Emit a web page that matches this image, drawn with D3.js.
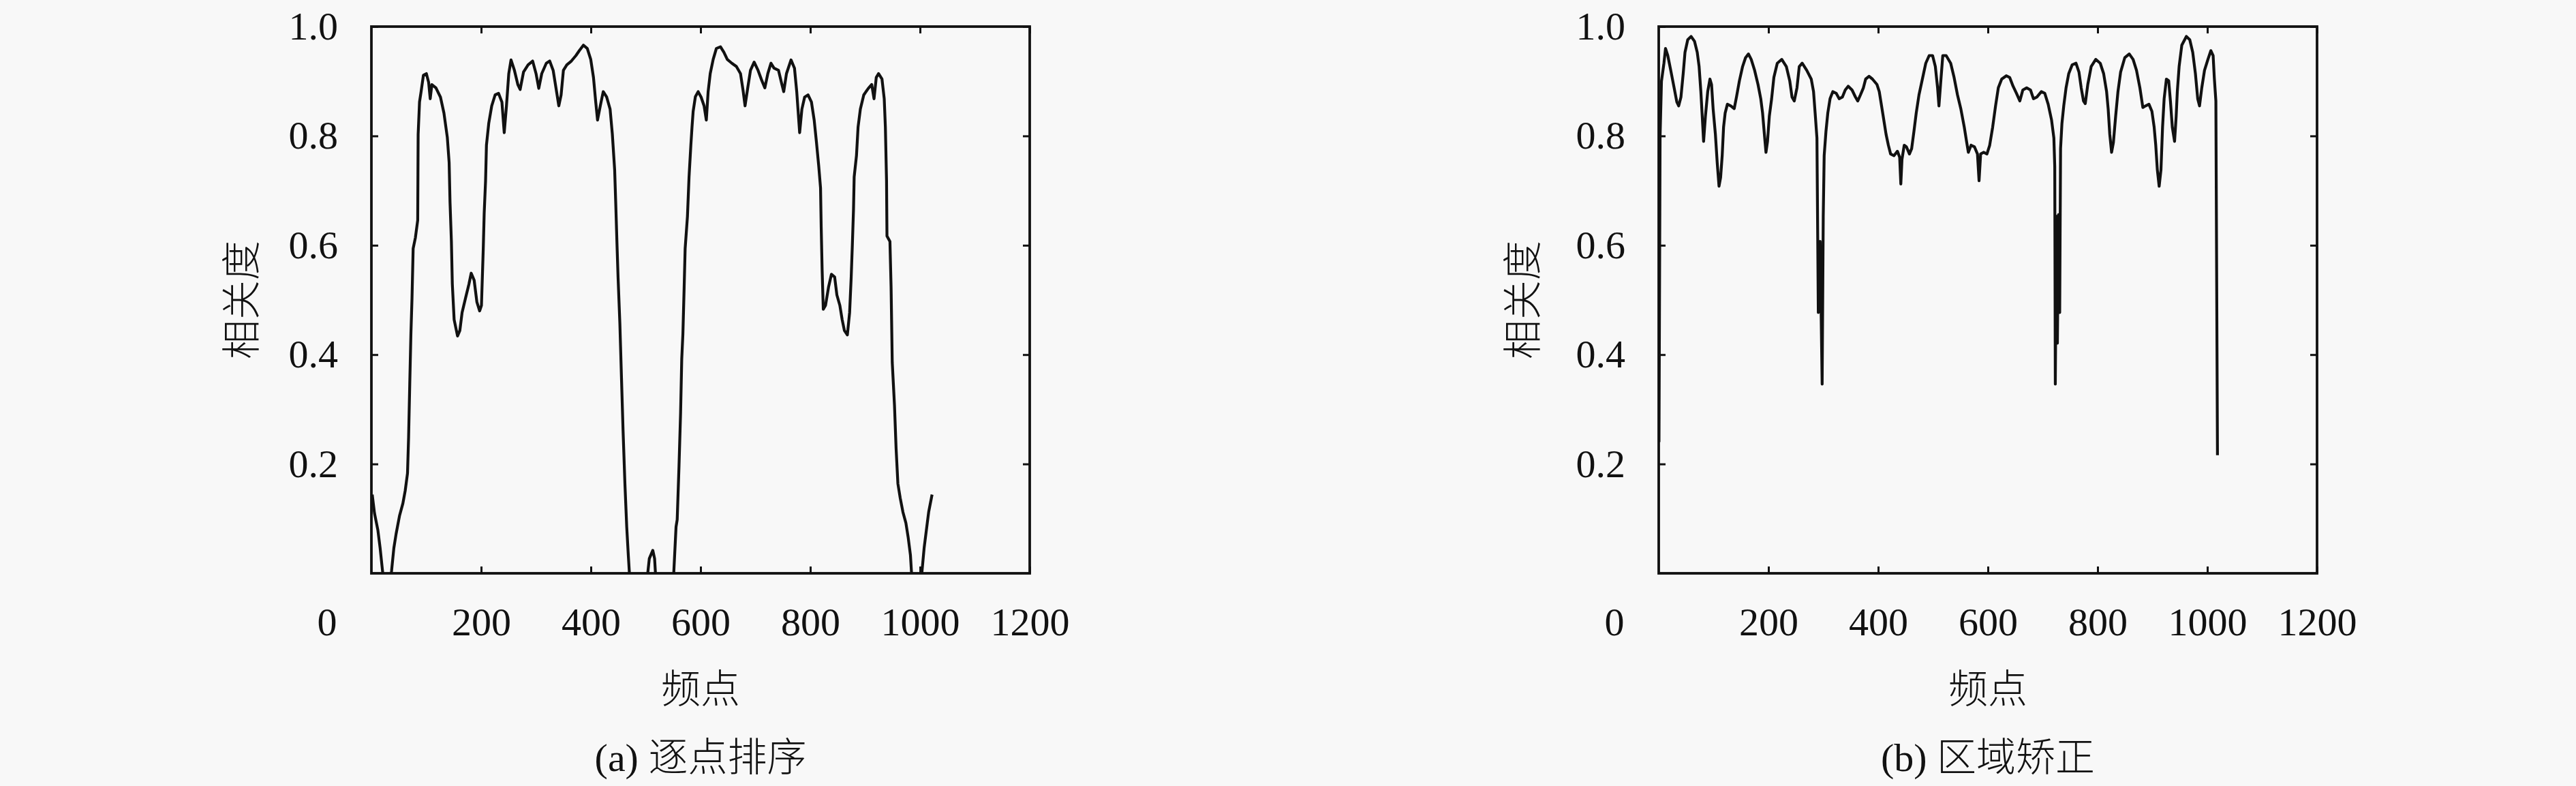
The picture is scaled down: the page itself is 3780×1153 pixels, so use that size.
<!DOCTYPE html>
<html><head><meta charset="utf-8">
<script src="https://cdn.jsdelivr.net/npm/d3@7"></script>
<style>
html,body{margin:0;padding:0;background:#f8f8f8;}
svg{display:block;}
</style></head>
<body>
<svg id="chart" width="3780" height="1153"></svg>
<script>
// ---------- data ----------
const xTicks = [200, 400, 600, 800, 1000, 1200];
const yTicks = [0.2, 0.4, 0.6, 0.8, 1.0];
const xTickLabels = ["200", "400", "600", "800", "1000", "1200"];
const yTickLabels = ["0.2", "0.4", "0.6", "0.8", "1.0"];
const originLabel = "0";
const xLabel = "频点";
const yLabel = "相关度";
const captions = ["(a) 逐点排序", "(b) 区域矫正"];

// (a) 逐点排序
const seriesA_x = [1.5,5.6,11.8,15.9,20,24,32,36.7,40.9,45,51.2,57.4,61.6,65.8,67.8,69.9,72,74,76.1,80.2,84.4,85.2,87.7,90.6,94.8,100.2,104.3,107.2,110.2,117.6,125.9,132.2,138.4,141.7,143.3,145.8,147.5,150.8,157,161.2,165.3,171.5,177.8,181.9,187.3,192.3,197.3,200.6,203.9,205.6,208.1,209.7,213.9,219.3,225.5,231.7,237.9,242.1,246.2,250.4,254.5,260.7,266.9,271.1,277.3,285.6,293.9,300.1,305.1,310.5,318.8,325,331.3,337.5,341.6,345.8,350,356.2,364.5,372.8,379,386.5,393.5,399.8,404.8,408.9,412.2,417.2,422.6,428.9,435.1,439.2,443.4,445.5,447.5,449.6,452.9,455.8,458.7,462.1,465.4,468.3,470.3,474,500,503.7,506.6,512.9,516.2,517.8,521,548,551.1,555.3,557.4,560.7,563.6,565.7,567.8,569.9,571.9,576.1,579,582.3,584.4,586.5,590.6,595.6,601,606.4,610.5,613.8,617.6,623,628.8,636.3,642.5,648.7,657,665.3,672.8,677.8,681.1,686,691,697.7,704.8,711.8,717.2,722.6,728.4,733.8,742.1,748.3,751.6,756.6,764.9,771.2,775.3,780.6,784.7,789.7,795.9,802.1,807.1,811.2,815.4,818.7,819.9,821.6,823.7,827.8,833.2,838.6,844.4,848.5,853.9,858.1,862.2,867.6,871.7,874.6,876.7,878.8,880,884.2,887.1,891.3,897.5,905.8,912,916.2,920.3,924.4,930.7,934.8,936.9,939,939.8,945.2,947.3,949.4,953.5,956.4,959.7,963.9,968.9,974.3,978.4,982.6,984.6,988,1000,1003.3,1007.5,1011.6,1015.8,1022];
const seriesA_y = [0.144,0.11,0.079,0.046,0.007,-0.03,-0.03,0.004,0.046,0.072,0.105,0.128,0.151,0.183,0.249,0.346,0.438,0.503,0.594,0.614,0.646,0.803,0.862,0.881,0.911,0.914,0.898,0.868,0.894,0.888,0.871,0.842,0.797,0.751,0.679,0.607,0.529,0.464,0.434,0.444,0.477,0.503,0.529,0.549,0.536,0.496,0.48,0.49,0.594,0.659,0.718,0.783,0.823,0.855,0.875,0.878,0.862,0.806,0.855,0.914,0.939,0.92,0.894,0.885,0.917,0.93,0.937,0.914,0.887,0.914,0.933,0.937,0.92,0.881,0.855,0.875,0.92,0.93,0.937,0.947,0.956,0.966,0.96,0.94,0.907,0.862,0.829,0.855,0.881,0.871,0.849,0.803,0.738,0.673,0.607,0.542,0.457,0.359,0.262,0.164,0.085,0.033,0,-0.04,-0.04,0,0.027,0.042,0.027,0,-0.04,-0.04,0,0.085,0.098,0.196,0.294,0.392,0.438,0.516,0.594,0.653,0.725,0.783,0.816,0.845,0.872,0.881,0.871,0.855,0.829,0.881,0.914,0.94,0.96,0.963,0.953,0.94,0.933,0.927,0.914,0.881,0.855,0.888,0.92,0.935,0.92,0.901,0.888,0.914,0.933,0.924,0.92,0.894,0.881,0.914,0.939,0.924,0.881,0.806,0.849,0.871,0.875,0.862,0.829,0.789,0.745,0.705,0.633,0.555,0.483,0.49,0.523,0.547,0.542,0.509,0.49,0.464,0.444,0.436,0.477,0.542,0.601,0.666,0.725,0.764,0.816,0.849,0.875,0.887,0.894,0.868,0.907,0.914,0.904,0.868,0.816,0.718,0.617,0.607,0.523,0.386,0.307,0.229,0.164,0.138,0.112,0.092,0.066,0.033,0,-0.04,-0.04,0,0.046,0.079,0.112,0.144];

// (b) 区域矫正
const seriesB_x = [0.5,2.5,5,9.5,12.4,16.5,21.9,28.1,33,36.4,40.5,44.6,47.9,52.9,59,65.3,70.2,73.6,76.8,79.7,81.8,85.1,89.3,93.4,96.3,99.2,103.3,106.6,109.9,112.8,115.7,118.2,121.1,125.2,131.4,137.6,141.7,147.1,152.9,158.2,163.6,168.6,174.8,181,186,189.3,192.6,195.5,198.3,201.6,205.8,209.9,216.1,224.3,232.6,238.8,243,247.1,252,256.2,261.5,269.8,278,282.2,285.1,288.4,290.9,294.2,297.9,299.9,301.6,304.9,308.2,312.3,317.3,323.5,328.9,334.7,340,345.4,352.4,358.7,362.8,367.7,373.1,377.2,383.4,389.6,397.9,402,406.2,410.3,414.4,418.6,422.7,428.9,435.1,439.2,441.3,443.4,447.5,451.6,457,461.1,465.3,469.4,474.4,480.6,486.8,493,499.2,504.2,508.3,510.8,513.7,517.8,523.9,532.2,538.4,544.6,550.8,557,561.1,564.4,569.4,575.6,581,583.9,586.8,592.1,598.3,603.3,608.7,614,619,625.2,633.5,639.7,645.9,652.1,658.3,663.7,670.7,677.7,683.1,689.3,697.5,703.7,709.9,716.1,720.3,721.9,722.9,725.1,726.7,728.8,730.9,732.5,735,738.3,742.5,747.4,753.6,760.6,766,770.1,774.3,777.5,782.1,788.3,796.6,804.8,811,816.4,819.3,822.2,825.5,828.8,832.9,837.1,842,849.5,857.7,864.7,870.9,877.1,882.5,887.5,893.6,899,903.1,906,908.9,912.2,915.5,918.4,921.3,925.4,929.6,932.9,936.2,940.3,943.2,945.3,948.6,953.5,961.8,968,973.4,978.3,982.5,985.8,989.9,994.9,1001.1,1006.5,1010.6,1012.7,1015.6,1018.5];
const seriesB_y = [0.24,0.8,0.9,0.933,0.96,0.947,0.92,0.888,0.862,0.855,0.871,0.914,0.953,0.976,0.982,0.973,0.953,0.927,0.881,0.829,0.79,0.836,0.881,0.904,0.894,0.849,0.803,0.751,0.708,0.724,0.764,0.816,0.842,0.858,0.855,0.85,0.871,0.901,0.927,0.943,0.95,0.94,0.92,0.894,0.868,0.842,0.803,0.77,0.79,0.836,0.868,0.907,0.933,0.94,0.927,0.901,0.871,0.864,0.888,0.927,0.933,0.92,0.904,0.881,0.842,0.796,0.477,0.607,0.346,0.653,0.764,0.809,0.842,0.868,0.881,0.878,0.868,0.871,0.884,0.891,0.884,0.871,0.864,0.875,0.888,0.904,0.909,0.904,0.894,0.881,0.855,0.829,0.803,0.783,0.767,0.764,0.772,0.761,0.712,0.757,0.783,0.78,0.767,0.777,0.809,0.842,0.875,0.904,0.933,0.947,0.947,0.927,0.888,0.855,0.894,0.947,0.947,0.933,0.907,0.875,0.849,0.816,0.79,0.77,0.783,0.78,0.767,0.718,0.767,0.77,0.767,0.783,0.816,0.855,0.888,0.904,0.91,0.907,0.891,0.878,0.864,0.884,0.888,0.884,0.868,0.871,0.881,0.878,0.858,0.829,0.796,0.744,0.346,0.653,0.421,0.656,0.477,0.777,0.823,0.855,0.888,0.914,0.93,0.933,0.917,0.888,0.864,0.859,0.894,0.927,0.94,0.933,0.914,0.881,0.849,0.803,0.77,0.788,0.836,0.881,0.917,0.943,0.95,0.94,0.92,0.888,0.852,0.855,0.858,0.845,0.816,0.783,0.738,0.708,0.738,0.816,0.868,0.904,0.901,0.862,0.816,0.79,0.836,0.881,0.927,0.966,0.982,0.976,0.953,0.914,0.868,0.855,0.888,0.92,0.94,0.956,0.947,0.907,0.864,0.216];

// ---------- layout ----------
const panels = [
  {left: 545, top: 39, width: 966, height: 802, xs: seriesA_x, ys: seriesA_y, caption: captions[0], ylabX: 354},
  {left: 2434, top: 39, width: 966, height: 802, xs: seriesB_x, ys: seriesB_y, caption: captions[1], ylabX: 2234}
];

const svg = d3.select("#chart");
svg.append("rect").attr("width", 3780).attr("height", 1153).attr("fill", "#f8f8f8");

const serif = "'Liberation Serif', 'Times New Roman', serif";
const cjk = "'Liberation Serif', 'Noto Sans CJK SC', sans-serif";
const fs = 58;

panels.forEach((p, i) => {
  const x = d3.scaleLinear().domain([0, 1200]).range([0, p.width]);
  const y = d3.scaleLinear().domain([0, 1]).range([p.height, 0]);
  const g = svg.append("g").attr("transform", `translate(${p.left},${p.top})`);

  const clipId = "clip" + i;
  g.append("clipPath").attr("id", clipId)
    .append("rect").attr("x", 0).attr("y", 0).attr("width", p.width).attr("height", p.height);

  const data = p.xs.map((d, k) => [d, p.ys[k]]);
  const line = d3.line().x(d => x(d[0])).y(d => y(d[1]));
  g.append("path").datum(data)
    .attr("clip-path", `url(#${clipId})`)
    .attr("d", line)
    .attr("fill", "none")
    .attr("stroke", "#111")
    .attr("stroke-width", 4.2)
    .attr("stroke-linejoin", "round");

  const tickLen = 10;
  const ax = g.append("g").attr("transform", `translate(0,${p.height})`)
    .call(d3.axisBottom(x).tickValues(xTicks).tickFormat((d, k) => xTickLabels[k])
      .tickSizeInner(-tickLen).tickSizeOuter(0).tickPadding(50));
  const at = g.append("g")
    .call(d3.axisTop(x).tickValues(xTicks).tickFormat("").tickSizeInner(-tickLen).tickSizeOuter(0));
  const al = g.append("g")
    .call(d3.axisLeft(y).tickValues(yTicks).tickFormat((d, k) => yTickLabels[k])
      .tickSizeInner(-tickLen).tickSizeOuter(0).tickPadding(49));
  const ar = g.append("g").attr("transform", `translate(${p.width},0)`)
    .call(d3.axisRight(y).tickValues(yTicks).tickFormat("").tickSizeInner(-tickLen).tickSizeOuter(0));

  [ax, at, al, ar].forEach(a => {
    a.select(".domain").remove();
    a.selectAll(".tick line").attr("stroke", "#111").attr("stroke-width", 3);
    a.selectAll(".tick text").attr("fill", "#111").style("font-family", serif).style("font-size", fs + "px");
  });

  g.append("rect").attr("x", 0).attr("y", 0).attr("width", p.width).attr("height", p.height)
    .attr("fill", "none").attr("stroke", "#111").attr("stroke-width", 3.8);

  g.append("text").attr("x", x(0) - 65).attr("y", p.height + 50).attr("dy", "0.71em")
    .attr("text-anchor", "middle").attr("fill", "#111")
    .style("font-family", serif).style("font-size", fs + "px").text(originLabel);

  svg.append("text").attr("x", p.left + p.width / 2).attr("y", 1010).attr("dy", "0.36em")
    .attr("text-anchor", "middle").attr("fill", "#111")
    .style("font-family", cjk).style("font-weight", 300).style("font-size", fs + "px").text(xLabel);

  svg.append("text").attr("transform", `translate(${p.ylabX},${p.top + p.height / 2}) rotate(-90)`)
    .attr("dy", "0.36em").attr("text-anchor", "middle").attr("fill", "#111")
    .style("font-family", cjk).style("font-weight", 300).style("font-size", fs + "px").text(yLabel);

  svg.append("text").attr("x", p.left + p.width / 2).attr("y", 1110).attr("dy", "0.36em")
    .attr("text-anchor", "middle").attr("fill", "#111")
    .style("font-family", cjk).style("font-weight", 300).style("font-size", fs + "px").text(p.caption);
});
</script>
</body></html>
